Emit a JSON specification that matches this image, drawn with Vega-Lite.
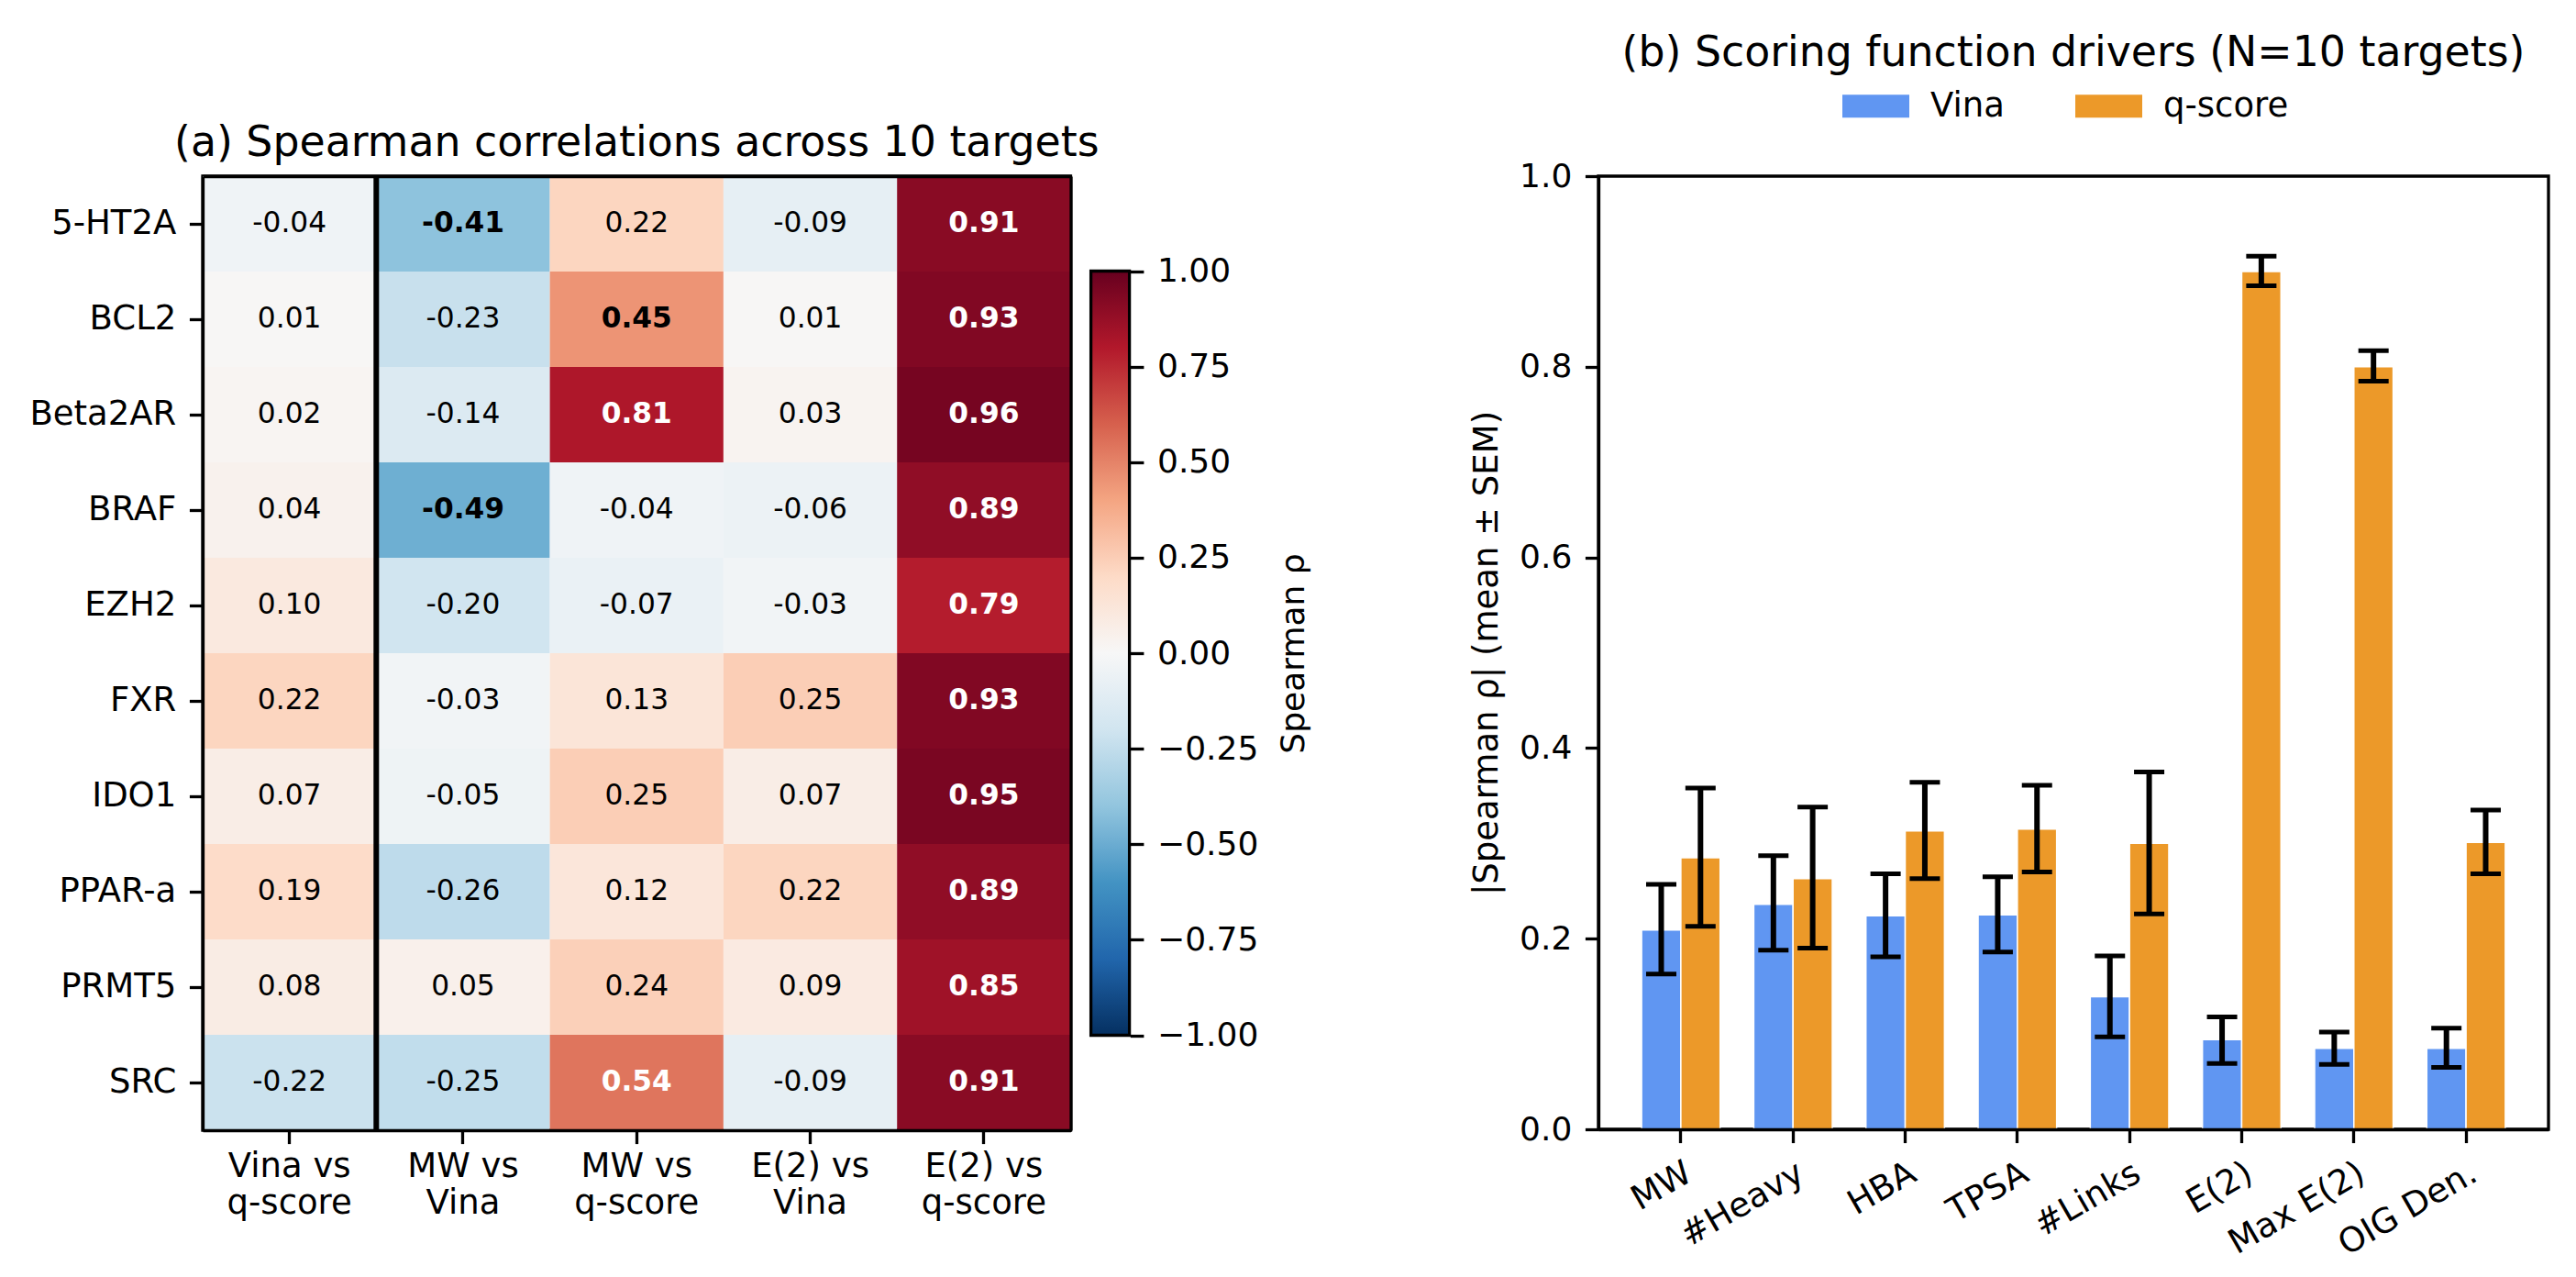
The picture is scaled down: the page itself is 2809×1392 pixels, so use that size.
{
  "$schema": "https://vega.github.io/schema/vega-lite/v6.json",
  "background": "white",
  "padding": {"left": 30, "top": 33, "right": 20, "bottom": 20},
  "config": {
    "font": "DejaVu Sans",
    "view": {"stroke": "black", "strokeWidth": 3.3},
    "axis": {
      "labelFont": "DejaVu Sans", "labelFontSize": 37, "labelColor": "black",
      "titleFont": "DejaVu Sans", "titleFontSize": 37, "titleFontWeight": "normal", "titleColor": "black",
      "tickColor": "black", "tickWidth": 3.3, "tickSize": 14.6, "labelPadding": 14.6,
      "domainColor": "black", "domainWidth": 3.3, "grid": false
    },
    "legend": {"labelFont": "DejaVu Sans", "labelColor": "black"},
    "title": {"font": "DejaVu Sans", "fontSize": 45.8, "fontWeight": "normal", "color": "black"},
    "locale": {
      "number": {"decimal": ".", "thousands": ",", "grouping": [3], "currency": ["$", ""], "minus": "-"}
    }
  },
  "datasets": {
    "corr": [
      {"target": "5-HT2A", "pair": "Vina vs q-score", "rho": -0.04},
      {"target": "5-HT2A", "pair": "MW vs Vina", "rho": -0.41},
      {"target": "5-HT2A", "pair": "MW vs q-score", "rho": 0.22},
      {"target": "5-HT2A", "pair": "E(2) vs Vina", "rho": -0.09},
      {"target": "5-HT2A", "pair": "E(2) vs q-score", "rho": 0.91},
      {"target": "BCL2", "pair": "Vina vs q-score", "rho": 0.01},
      {"target": "BCL2", "pair": "MW vs Vina", "rho": -0.23},
      {"target": "BCL2", "pair": "MW vs q-score", "rho": 0.45},
      {"target": "BCL2", "pair": "E(2) vs Vina", "rho": 0.01},
      {"target": "BCL2", "pair": "E(2) vs q-score", "rho": 0.93},
      {"target": "Beta2AR", "pair": "Vina vs q-score", "rho": 0.02},
      {"target": "Beta2AR", "pair": "MW vs Vina", "rho": -0.14},
      {"target": "Beta2AR", "pair": "MW vs q-score", "rho": 0.81},
      {"target": "Beta2AR", "pair": "E(2) vs Vina", "rho": 0.03},
      {"target": "Beta2AR", "pair": "E(2) vs q-score", "rho": 0.96},
      {"target": "BRAF", "pair": "Vina vs q-score", "rho": 0.04},
      {"target": "BRAF", "pair": "MW vs Vina", "rho": -0.49},
      {"target": "BRAF", "pair": "MW vs q-score", "rho": -0.04},
      {"target": "BRAF", "pair": "E(2) vs Vina", "rho": -0.06},
      {"target": "BRAF", "pair": "E(2) vs q-score", "rho": 0.89},
      {"target": "EZH2", "pair": "Vina vs q-score", "rho": 0.10},
      {"target": "EZH2", "pair": "MW vs Vina", "rho": -0.20},
      {"target": "EZH2", "pair": "MW vs q-score", "rho": -0.07},
      {"target": "EZH2", "pair": "E(2) vs Vina", "rho": -0.03},
      {"target": "EZH2", "pair": "E(2) vs q-score", "rho": 0.79},
      {"target": "FXR", "pair": "Vina vs q-score", "rho": 0.22},
      {"target": "FXR", "pair": "MW vs Vina", "rho": -0.03},
      {"target": "FXR", "pair": "MW vs q-score", "rho": 0.13},
      {"target": "FXR", "pair": "E(2) vs Vina", "rho": 0.25},
      {"target": "FXR", "pair": "E(2) vs q-score", "rho": 0.93},
      {"target": "IDO1", "pair": "Vina vs q-score", "rho": 0.07},
      {"target": "IDO1", "pair": "MW vs Vina", "rho": -0.05},
      {"target": "IDO1", "pair": "MW vs q-score", "rho": 0.25},
      {"target": "IDO1", "pair": "E(2) vs Vina", "rho": 0.07},
      {"target": "IDO1", "pair": "E(2) vs q-score", "rho": 0.95},
      {"target": "PPAR-a", "pair": "Vina vs q-score", "rho": 0.19},
      {"target": "PPAR-a", "pair": "MW vs Vina", "rho": -0.26},
      {"target": "PPAR-a", "pair": "MW vs q-score", "rho": 0.12},
      {"target": "PPAR-a", "pair": "E(2) vs Vina", "rho": 0.22},
      {"target": "PPAR-a", "pair": "E(2) vs q-score", "rho": 0.89},
      {"target": "PRMT5", "pair": "Vina vs q-score", "rho": 0.08},
      {"target": "PRMT5", "pair": "MW vs Vina", "rho": 0.05},
      {"target": "PRMT5", "pair": "MW vs q-score", "rho": 0.24},
      {"target": "PRMT5", "pair": "E(2) vs Vina", "rho": 0.09},
      {"target": "PRMT5", "pair": "E(2) vs q-score", "rho": 0.85},
      {"target": "SRC", "pair": "Vina vs q-score", "rho": -0.22},
      {"target": "SRC", "pair": "MW vs Vina", "rho": -0.25},
      {"target": "SRC", "pair": "MW vs q-score", "rho": 0.54},
      {"target": "SRC", "pair": "E(2) vs Vina", "rho": -0.09},
      {"target": "SRC", "pair": "E(2) vs q-score", "rho": 0.91}
    ],
    "colorbarTicks": [
      {"v": -1.0}, {"v": -0.75}, {"v": -0.5}, {"v": -0.25}, {"v": 0.0},
      {"v": 0.25}, {"v": 0.5}, {"v": 0.75}, {"v": 1.0}
    ],
    "drivers": [
      {"feature": "MW", "series": "Vina", "mean": 0.209, "lo": 0.163, "hi": 0.257},
      {"feature": "MW", "series": "q-score", "mean": 0.285, "lo": 0.213, "hi": 0.358},
      {"feature": "#Heavy", "series": "Vina", "mean": 0.236, "lo": 0.188, "hi": 0.287},
      {"feature": "#Heavy", "series": "q-score", "mean": 0.263, "lo": 0.190, "hi": 0.338},
      {"feature": "HBA", "series": "Vina", "mean": 0.224, "lo": 0.181, "hi": 0.268},
      {"feature": "HBA", "series": "q-score", "mean": 0.313, "lo": 0.263, "hi": 0.364},
      {"feature": "TPSA", "series": "Vina", "mean": 0.225, "lo": 0.186, "hi": 0.265},
      {"feature": "TPSA", "series": "q-score", "mean": 0.315, "lo": 0.270, "hi": 0.361},
      {"feature": "#Links", "series": "Vina", "mean": 0.139, "lo": 0.097, "hi": 0.182},
      {"feature": "#Links", "series": "q-score", "mean": 0.300, "lo": 0.226, "hi": 0.375},
      {"feature": "E(2)", "series": "Vina", "mean": 0.094, "lo": 0.069, "hi": 0.118},
      {"feature": "E(2)", "series": "q-score", "mean": 0.900, "lo": 0.885, "hi": 0.916},
      {"feature": "Max E(2)", "series": "Vina", "mean": 0.085, "lo": 0.068, "hi": 0.102},
      {"feature": "Max E(2)", "series": "q-score", "mean": 0.800, "lo": 0.785, "hi": 0.817},
      {"feature": "OIG Den.", "series": "Vina", "mean": 0.085, "lo": 0.065, "hi": 0.106},
      {"feature": "OIG Den.", "series": "q-score", "mean": 0.301, "lo": 0.268, "hi": 0.335}
    ]
  },
  "bounds": "flush",
  "spacing": 575,
  "hconcat": [
    {
      "width": 946.5,
      "height": 1040,
      "title": {"text": "(a) Spearman correlations across 10 targets", "anchor": "middle", "frame": "group", "baseline": "alphabetic", "offset": -27},
      "data": {"name": "corr"},
      "layer": [
        {
          "mark": {"type": "rect", "opacity": 1},
          "encoding": {
            "x": {
              "field": "pair", "type": "nominal",
              "sort": ["Vina vs q-score", "MW vs Vina", "MW vs q-score", "E(2) vs Vina", "E(2) vs q-score"],
              "scale": {"paddingInner": 0, "paddingOuter": 0},
              "axis": {
                "orient": "bottom", "title": null, "labelAngle": 0, "labelAlign": "center", "labelBaseline": "top",
                "labelExpr": "[split(datum.label, ' vs ')[0] + ' vs', split(datum.label, ' vs ')[1]]",
                "labelLineHeight": 40, "labelPadding": 7, "zindex": 1
              }
            },
            "y": {
              "field": "target", "type": "nominal",
              "sort": ["5-HT2A", "BCL2", "Beta2AR", "BRAF", "EZH2", "FXR", "IDO1", "PPAR-a", "PRMT5", "SRC"],
              "scale": {"paddingInner": 0, "paddingOuter": 0},
              "axis": {"orient": "left", "title": null, "zindex": 1}
            },
            "color": {
              "field": "rho", "type": "quantitative",
              "scale": {
                "domain": [-1, -0.8, -0.6, -0.4, -0.2, 0, 0.2, 0.4, 0.6, 0.8, 1],
                "range": ["#053061", "#2166ac", "#4393c3", "#92c5de", "#d1e5f0", "#f7f7f7", "#fddbc7", "#f4a582", "#d6604d", "#b2182b", "#67001f"],
                "interpolate": "rgb"
              },
              "legend": {
                "orient": "none", "legendX": 968.6, "legendY": 103.5, "direction": "vertical",
                "title": null, "padding": 0,
                "gradientLength": 833, "gradientThickness": 42,
                "gradientStrokeColor": "black", "gradientStrokeWidth": 3.3,
                "values": [-1, 1],
                "labelExpr": "''",
                "labelFontSize": 1, "labelOffset": 0
              }
            }
          }
        },
        {
          "transform": [{"filter": "abs(datum.rho) <= 0.4"}],
          "mark": {"type": "text", "fontSize": 31.25, "align": "center", "baseline": "middle", "color": "black"},
          "encoding": {
            "x": {"field": "pair", "type": "nominal", "sort": ["Vina vs q-score", "MW vs Vina", "MW vs q-score", "E(2) vs Vina", "E(2) vs q-score"], "axis": null},
            "y": {
              "field": "target", "type": "nominal",
              "sort": ["5-HT2A", "BCL2", "Beta2AR", "BRAF", "EZH2", "FXR", "IDO1", "PPAR-a", "PRMT5", "SRC"],
              "scale": {"type": "band", "paddingInner": 0, "paddingOuter": 0},
              "axis": {
                "orient": "right", "labels": false, "ticks": false, "domain": true,
                "title": "Spearman \u03c1", "titleAngle": 270, "titleBaseline": "middle", "titleAlign": "center",
                "titlePadding": 243, "titleFontSize": 36, "zindex": 1
              }
            },
            "text": {"field": "rho", "type": "quantitative", "format": ".2f"}
          }
        },
        {
          "transform": [{"filter": "abs(datum.rho) > 0.4"}],
          "mark": {"type": "text", "fontSize": 31.25, "fontWeight": "bold", "align": "center", "baseline": "middle"},
          "encoding": {
            "x": {"field": "pair", "type": "nominal", "sort": ["Vina vs q-score", "MW vs Vina", "MW vs q-score", "E(2) vs Vina", "E(2) vs q-score"], "axis": null},
            "y": {
              "field": "target", "type": "nominal",
              "sort": ["5-HT2A", "BCL2", "Beta2AR", "BRAF", "EZH2", "FXR", "IDO1", "PPAR-a", "PRMT5", "SRC"],
              "scale": {"type": "band", "paddingInner": 0, "paddingOuter": 0},
              "axis": null
            },
            "text": {"field": "rho", "type": "quantitative", "format": ".2f"},
            "color": {"condition": {"test": "abs(datum.rho) > 0.5", "value": "white"}, "value": "black"}
          }
        },
        {
          "data": {"values": [{"pair": "MW vs Vina"}]},
          "mark": {"type": "rule", "color": "black", "strokeWidth": 6},
          "encoding": {
            "x": {
              "field": "pair", "type": "nominal", "bandPosition": 0,
              "sort": ["Vina vs q-score", "MW vs Vina", "MW vs q-score", "E(2) vs Vina", "E(2) vs q-score"],
              "axis": {"orient": "top", "labels": false, "ticks": false, "domain": true, "title": null, "zindex": 1}
            }
          }
        },
        {
          "data": {"name": "colorbarTicks"},
          "mark": {"type": "point", "opacity": 0, "size": 1},
          "encoding": {
            "y": {
              "field": "v", "type": "quantitative",
              "scale": {"domain": [-1, 1], "range": [936.5, 103.5], "nice": false, "zero": false},
              "axis": {
                "orient": "right", "offset": 64.8, "title": null, "domain": false,
                "values": [-1, -0.75, -0.5, -0.25, 0, 0.25, 0.5, 0.75, 1],
                "labelExpr": "replace(format(datum.value, '.2f'), '-', '\u2212')",
                "labelFontSize": 36, "labelFlush": false, "labelOverlap": false, "labelBound": false,
                "labelBaseline": "middle", "zindex": 1
              }
            }
          }
        }
      ],
      "resolve": {"axis": {"x": "independent", "y": "independent"}, "scale": {"y": "independent"}}
    },
    {
      "width": 1036,
      "height": 1039,
      "title": {"text": "(b) Scoring function drivers (N=10 targets)", "anchor": "middle", "frame": "group", "baseline": "alphabetic", "offset": -39},
      "data": {"name": "drivers"},
      "encoding": {
        "x": {
          "field": "feature", "type": "nominal",
          "sort": ["MW", "#Heavy", "HBA", "TPSA", "#Links", "E(2)", "Max E(2)", "OIG Den."],
          "scale": {"paddingInner": 0.3, "paddingOuter": 0.385},
          "axis": {"title": null, "labelAngle": -30, "labelAlign": "right", "labelBaseline": "top", "zindex": 1}
        },
        "xOffset": {
          "field": "series", "type": "nominal", "sort": ["Vina", "q-score"],
          "scale": {"paddingInner": 0, "paddingOuter": 0}
        }
      },
      "layer": [
        {
          "mark": {"type": "bar", "stroke": "white", "strokeWidth": 1.5, "opacity": 1},
          "encoding": {
            "y": {
              "field": "mean", "type": "quantitative", "title": "|Spearman \u03c1| (mean \u00b1 SEM)",
              "scale": {"domain": [0, 1], "nice": false, "zero": true},
              "axis": {"values": [0, 0.2, 0.4, 0.6, 0.8, 1.0], "format": ".1f", "labelFontSize": 36, "titlePadding": 16, "zindex": 1}
            },
            "color": {
              "field": "series", "type": "nominal", "sort": ["Vina", "q-score"],
              "scale": {"domain": ["Vina", "q-score"], "range": ["#6096F2", "#EC9929"]},
              "legend": {
                "orient": "none", "legendX": 266, "legendY": -113, "direction": "horizontal",
                "title": null, "padding": 0,
                "symbolType": "M-1,-0.34H1V0.34H-1Z", "symbolSize": 5329, "symbolStrokeWidth": 0, "symbolOpacity": 1,
                "labelFontSize": 37, "labelOffset": 23, "columnPadding": 77
              }
            }
          }
        },
        {
          "mark": {"type": "rule", "color": "black", "strokeWidth": 6, "opacity": 1},
          "encoding": {
            "y": {"field": "lo", "type": "quantitative", "title": "|Spearman \u03c1| (mean \u00b1 SEM)"},
            "y2": {"field": "hi"}
          }
        },
        {
          "mark": {"type": "tick", "color": "black", "size": 33, "thickness": 5, "opacity": 1},
          "encoding": {
            "y": {"field": "lo", "type": "quantitative", "title": "|Spearman \u03c1| (mean \u00b1 SEM)"}
          }
        },
        {
          "mark": {"type": "tick", "color": "black", "size": 33, "thickness": 5, "opacity": 1},
          "encoding": {
            "y": {"field": "hi", "type": "quantitative", "title": "|Spearman \u03c1| (mean \u00b1 SEM)"}
          }
        }
      ]
    }
  ],
  "resolve": {"scale": {"color": "independent"}, "legend": {"color": "independent"}}
}
